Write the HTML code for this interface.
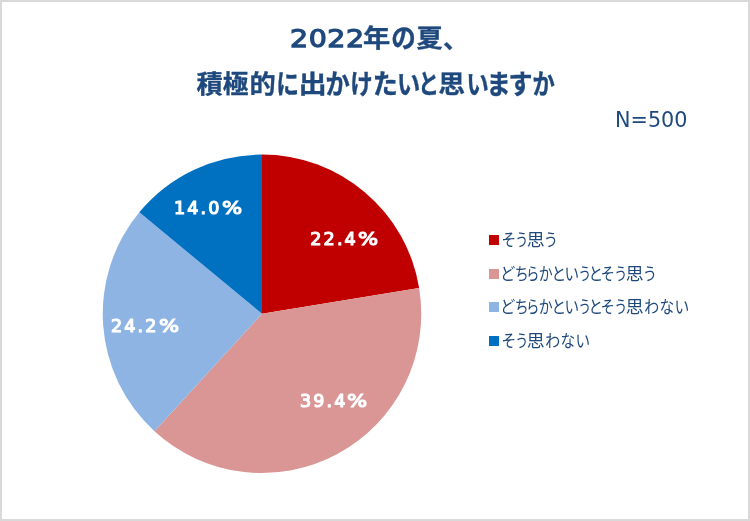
<!DOCTYPE html>
<html lang="ja">
<head>
<meta charset="utf-8">
<title>2022年の夏、積極的に出かけたいと思いますか</title>
<style>
html,body{margin:0;padding:0;}
body{width:750px;height:521px;position:relative;overflow:hidden;background:#fff;font-family:"Liberation Sans","Noto Sans CJK JP",sans-serif;color:#1F497D;}
.frame{position:absolute;left:0;top:0;width:750px;height:521px;box-sizing:border-box;border-style:solid;border-color:#d9d9d9;border-width:2px;}
.title{position:absolute;left:0;width:750px;height:30px;font-weight:bold;font-size:25px;line-height:30px;white-space:nowrap;}
.title .c{-webkit-text-stroke:0.35px #1F497D;}
.t1{top:23.3px;}
.t2{top:68.7px;}
.c{position:absolute;top:0;width:1em;text-align:center;display:block;}
.num{position:absolute;left:290.4px;top:0.5px;font-family:"DejaVu Sans","Liberation Sans",sans-serif;font-weight:normal;font-size:25.3px;letter-spacing:0.5px;-webkit-text-stroke:1.25px #1F497D;transform:scaleX(1.125);transform-origin:0 50%;}
.n{position:absolute;left:615px;top:106.7px;font-family:"DejaVu Sans","Liberation Sans",sans-serif;font-size:21.5px;line-height:26px;white-space:nowrap;transform:scaleX(.965);transform-origin:0 0;}
.pie{position:absolute;left:0;top:0;}
.pct{position:absolute;color:#fff;font-family:"DejaVu Sans","Liberation Sans",sans-serif;font-weight:normal;font-size:17.6px;line-height:20px;letter-spacing:2.1px;-webkit-text-stroke:1.15px #fff;white-space:nowrap;}
.pct span{display:inline-block;transform:scaleX(1.2);transform-origin:0 50%;}
.li{position:absolute;left:0;width:750px;height:20px;white-space:nowrap;font-size:17.6px;line-height:20px;}
.sq{position:absolute;left:488.7px;top:5.3px;width:10.2px;height:10px;}
</style>
</head>
<body>
<div class="frame"></div>
<div class="title t1"><span class="num">2022</span><span class="c" style="left:364.4px;transform:scaleX(1.09)">年</span><span class="c" style="left:390.9px;transform:scale(0.98,1.09)">の</span><span class="c" style="left:416.9px;transform:scaleX(1.05)">夏</span><span class="c" style="left:443.1px;top:1.2px">、</span></div>
<div class="title t2"><span class="c" style="left:196.5px;transform:scaleX(1.05)">積</span><span class="c" style="left:223.1px;transform:scaleX(1.03)">極</span><span class="c" style="left:250.1px;transform:scaleX(1.05)">的</span><span class="c" style="left:275.2px;transform:scale(0.91,1.09)">に</span><span class="c" style="left:299.7px;transform:scaleX(1.13)">出</span><span class="c" style="left:325px;transform:scale(0.97,1.09)">か</span><span class="c" style="left:348.9px;transform:scale(0.9,1.09)">け</span><span class="c" style="left:372.7px;transform:scale(1,1.09)">た</span><span class="c" style="left:395.9px;transform:scale(0.93,1.09)">い</span><span class="c" style="left:416.2px;transform:scale(0.83,1.09)">と</span><span class="c" style="left:439.3px;transform:scaleX(1.07)">思</span><span class="c" style="left:464.5px;transform:scale(0.89,1.09)">い</span><span class="c" style="left:485.5px;transform:scale(0.97,1.09)">ま</span><span class="c" style="left:507.8px;transform:scale(0.96,1.09)">す</span><span class="c" style="left:531.2px;transform:scale(0.89,1.09)">か</span></div>
<div class="n">N=500</div>
<svg class="pie" width="750" height="521" viewBox="0 0 750 521">
<path d="M262.00 313.80 L262.00 154.55 A159.25 159.25 0 0 1 419.13 287.90 Z" fill="#C00000"/>
<path d="M262.00 313.80 L419.13 287.90 A159.25 159.25 0 0 1 154.45 431.25 Z" fill="#D99694"/>
<path d="M262.00 313.80 L154.45 431.25 A159.25 159.25 0 0 1 139.30 212.29 Z" fill="#8EB4E3"/>
<path d="M262.00 313.80 L139.30 212.29 A159.25 159.25 0 0 1 262.00 154.55 Z" fill="#0070C0"/>
</svg>
<div class="pct" style="left:310.3px;top:228.6px;">22.4<span>%</span></div>
<div class="pct" style="left:299.9px;top:391.2px;">39.4<span>%</span></div>
<div class="pct" style="left:111px;top:315.7px;">24.2<span>%</span></div>
<div class="pct" style="left:174px;top:197.5px;">14.0<span>%</span></div>
<div class="li" style="top:230.2px;"><span class="sq" style="background:#C00000"></span><span class="c" style="left:499.9px;transform:scaleX(0.83)">そ</span><span class="c" style="left:512.8px;transform:scaleX(0.74)">う</span><span class="c" style="left:526.6px;transform:scaleX(1.02)">思</span><span class="c" style="left:541.6px;transform:scaleX(0.81)">う</span></div>
<div class="li" style="top:263.7px;"><span class="sq" style="background:#D99694"></span><span class="c" style="left:499.1px;transform:scaleX(0.86)">ど</span><span class="c" style="left:513.1px;transform:scaleX(0.79)">ち</span><span class="c" style="left:524.4px;transform:scaleX(0.74)">ら</span><span class="c" style="left:537.2px;transform:scaleX(0.79)">か</span><span class="c" style="left:550.3px;transform:scaleX(0.83)">と</span><span class="c" style="left:563.2px;transform:scaleX(0.83)">い</span><span class="c" style="left:576.2px;transform:scaleX(0.74)">う</span><span class="c" style="left:586.5px;transform:scaleX(0.83)">と</span><span class="c" style="left:599.4px;transform:scaleX(0.8)">そ</span><span class="c" style="left:611.9px;transform:scaleX(0.74)">う</span><span class="c" style="left:626px;transform:scaleX(1.02)">思</span><span class="c" style="left:641px;transform:scaleX(0.81)">う</span></div>
<div class="li" style="top:297.2px;"><span class="sq" style="background:#8EB4E3"></span><span class="c" style="left:499.1px;transform:scaleX(0.86)">ど</span><span class="c" style="left:513.1px;transform:scaleX(0.79)">ち</span><span class="c" style="left:524.4px;transform:scaleX(0.74)">ら</span><span class="c" style="left:537.2px;transform:scaleX(0.79)">か</span><span class="c" style="left:550.3px;transform:scaleX(0.83)">と</span><span class="c" style="left:563.2px;transform:scaleX(0.83)">い</span><span class="c" style="left:576.2px;transform:scaleX(0.74)">う</span><span class="c" style="left:586.5px;transform:scaleX(0.83)">と</span><span class="c" style="left:599.4px;transform:scaleX(0.8)">そ</span><span class="c" style="left:611.9px;transform:scaleX(0.74)">う</span><span class="c" style="left:626px;transform:scaleX(1.02)">思</span><span class="c" style="left:643px;transform:scaleX(0.85)">わ</span><span class="c" style="left:657.7px;transform:scaleX(0.84)">な</span><span class="c" style="left:672.7px;transform:scaleX(0.84)">い</span></div>
<div class="li" style="top:331px;"><span class="sq" style="background:#0070C0"></span><span class="c" style="left:499.9px;transform:scaleX(0.83)">そ</span><span class="c" style="left:512.8px;transform:scaleX(0.74)">う</span><span class="c" style="left:526.6px;transform:scaleX(1.02)">思</span><span class="c" style="left:543.8px;transform:scaleX(0.85)">わ</span><span class="c" style="left:558.5px;transform:scaleX(0.83)">な</span><span class="c" style="left:573.5px;transform:scaleX(0.83)">い</span></div>
</body>
</html>
